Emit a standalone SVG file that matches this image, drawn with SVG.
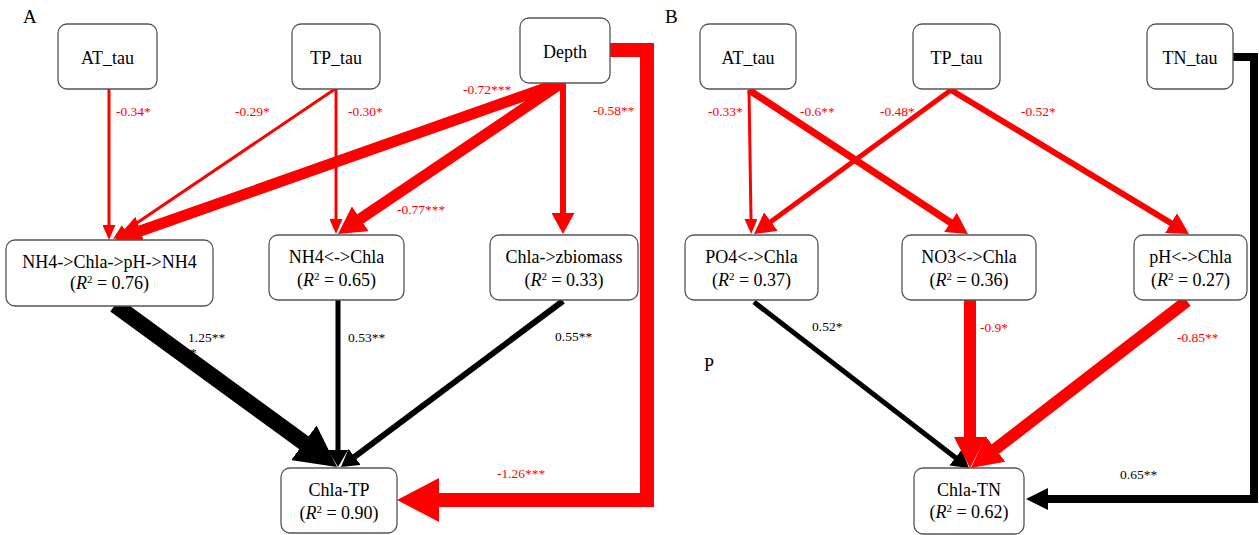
<svg xmlns="http://www.w3.org/2000/svg" width="1259" height="535" viewBox="0 0 1259 535">
  <style>
    text { font-family: "Liberation Serif", "DejaVu Serif", serif; }
    .box { fill: #ffffff; stroke: #555555; stroke-width: 1.3; }
    .nt { font-size: 18px; fill: #000; text-anchor: middle; }
    .sup { font-size: 11px; }
    .panel { font-size: 19px; fill: #000; }
    .lbl text { font-size: 13.5px; }
    .neg { fill: #ff0000; }
    .pos { fill: #000000; }
    .r { stroke: #ff0000; fill: none; }
    .k { stroke: #000000; fill: none; }
    .conn path, .conn line { stroke-linejoin: miter; stroke-linecap: butt; }
  </style>
  <defs>
    <marker id="rS" markerUnits="userSpaceOnUse" markerWidth="15" markerHeight="13" viewBox="0 0 15 13" refX="1" refY="6.5" orient="auto"><path d="M0,0 L15,6.5 L0,13 z" fill="#ff0000"/></marker>
    <marker id="rM" markerUnits="userSpaceOnUse" markerWidth="21" markerHeight="23" viewBox="0 0 21 23" refX="1" refY="11.5" orient="auto"><path d="M0,0 L21,11.5 L0,23 z" fill="#ff0000"/></marker>
    <marker id="rL" markerUnits="userSpaceOnUse" markerWidth="27" markerHeight="30" viewBox="0 0 27 30" refX="1" refY="15" orient="auto"><path d="M0,0 L27,15 L0,30 z" fill="#ff0000"/></marker>
    <marker id="rL2" markerUnits="userSpaceOnUse" markerWidth="31" markerHeight="32" viewBox="0 0 31 32" refX="1" refY="16" orient="auto"><path d="M0,0 L31,16 L0,32 z" fill="#ff0000"/></marker>
    <marker id="rXL" markerUnits="userSpaceOnUse" markerWidth="42" markerHeight="44" viewBox="0 0 42 44" refX="1" refY="22" orient="auto"><path d="M0,0 L42,22 L0,44 z" fill="#ff0000"/></marker>
    <marker id="kS" markerUnits="userSpaceOnUse" markerWidth="17" markerHeight="20" viewBox="0 0 17 20" refX="1" refY="10" orient="auto"><path d="M0,0 L17,10 L0,20 z" fill="#000000"/></marker>
    <marker id="kM" markerUnits="userSpaceOnUse" markerWidth="22" markerHeight="22" viewBox="0 0 22 22" refX="1" refY="11" orient="auto"><path d="M0,0 L22,11 L0,22 z" fill="#000000"/></marker>
    <marker id="kXL" markerUnits="userSpaceOnUse" markerWidth="41" markerHeight="43" viewBox="0 0 41 43" refX="1" refY="21.5" orient="auto"><path d="M0,0 L41,21.5 L0,43 z" fill="#000000"/></marker>
  </defs>

  <rect width="1259" height="535" fill="#ffffff"/>

  <!-- panel letters -->
  <text class="panel" x="23" y="23">A</text>
  <text class="panel" x="665" y="23">B</text>
  <text class="panel" x="704" y="371" style="font-size:18px">P</text>

  <!-- connectors -->
  <g id="connectors" class="conn">
    <!-- panel A -->
    <line class="r" x1="109" y1="89" x2="109" y2="226" stroke-width="3" marker-end="url(#rS)"/>
    <line class="r" x1="335" y1="89" x2="124.6" y2="231.2" stroke-width="3" marker-end="url(#rS)"/>
    <line class="r" x1="336" y1="89" x2="336" y2="220" stroke-width="3" marker-end="url(#rS)"/>
    <line class="r" x1="563" y1="82" x2="139.5" y2="231.3" stroke-width="11" marker-end="url(#rL)"/>
    <line class="r" x1="563" y1="82" x2="359.5" y2="219.4" stroke-width="11" marker-end="url(#rL)"/>
    <line class="r" x1="563" y1="82" x2="563" y2="214" stroke-width="6" marker-end="url(#rM)"/>
    <path class="r" d="M610,50 H647 V500 H438" stroke-width="14" marker-end="url(#rXL)"/>
    <line class="k" x1="115" y1="305" x2="304.7" y2="443.4" stroke-width="16" marker-end="url(#kXL)"/>
    <line class="k" x1="338" y1="300" x2="338" y2="451" stroke-width="5" marker-end="url(#kS)"/>
    <line class="k" x1="563" y1="301" x2="353.8" y2="457.4" stroke-width="6" marker-end="url(#kS)"/>
    <!-- panel B -->
    <line class="r" x1="749" y1="90" x2="751" y2="220" stroke-width="3" marker-end="url(#rS)"/>
    <line class="r" x1="749" y1="90" x2="951.3" y2="223" stroke-width="7" marker-end="url(#rM)"/>
    <line class="r" x1="951" y1="90" x2="770.1" y2="222.2" stroke-width="5" marker-end="url(#rM)"/>
    <line class="r" x1="951" y1="90" x2="1171.9" y2="223.6" stroke-width="6" marker-end="url(#rM)"/>
    <line class="k" x1="754" y1="302" x2="956.3" y2="458.2" stroke-width="5" marker-end="url(#kS)"/>
    <line class="r" x1="970" y1="300" x2="970" y2="438" stroke-width="12" marker-end="url(#rL2)"/>
    <line class="r" x1="1187" y1="301" x2="994.7" y2="449.6" stroke-width="12" marker-end="url(#rL2)"/>
    <path class="k" d="M1233,57 H1254 V499 H1047" stroke-width="8" marker-end="url(#kM)"/>
  </g>

  <!-- path coefficients -->
  <g id="coefficients" class="lbl">
    <text class="neg" x="116" y="116">-0.34*</text>
    <text class="neg" x="235" y="116">-0.29*</text>
    <text class="neg" x="348" y="116">-0.30*</text>
    <text class="neg" x="463" y="94">-0.72***</text>
    <text class="neg" x="593" y="115">-0.58**</text>
    <text class="neg" x="397" y="214">-0.77***</text>
    <text class="pos" x="188" y="342">1.25**</text>
    <!-- wrapped third asterisk of the 1.25 coefficient -->
    <text class="pos" x="190" y="357">*</text>
    <text class="pos" x="348" y="342">0.53**</text>
    <text class="pos" x="555" y="341">0.55**</text>
    <text class="neg" x="497" y="478">-1.26***</text>
    <text class="neg" x="708" y="116">-0.33*</text>
    <text class="neg" x="800" y="116">-0.6**</text>
    <text class="neg" x="880" y="116">-0.48*</text>
    <text class="neg" x="1021" y="116">-0.52*</text>
    <text class="pos" x="812" y="331">0.52*</text>
    <text class="neg" x="980" y="332">-0.9*</text>
    <text class="neg" x="1177" y="342">-0.85**</text>
    <text class="pos" x="1120" y="479">0.65**</text>
  </g>

  <!-- panel A nodes -->
  <g id="A_AT_tau">
    <rect class="box" x="58" y="24" width="99" height="65" rx="9"/>
    <text class="nt" x="107.5" y="64">AT_tau</text>
  </g>
  <g id="A_TP_tau">
    <rect class="box" x="292" y="24" width="88" height="65" rx="9"/>
    <text class="nt" x="336" y="64">TP_tau</text>
  </g>
  <g id="A_Depth">
    <rect class="box" x="520" y="18" width="90" height="65" rx="9"/>
    <text class="nt" x="565" y="58">Depth</text>
  </g>
  <g id="A_NH4_Chla_pH">
    <rect class="box" x="6" y="240" width="207" height="66" rx="9"/>
    <text class="nt" x="109.5" y="268">NH4-&gt;Chla-&gt;pH-&gt;NH4</text>
    <text class="nt" x="109.5" y="289">(<tspan font-style="italic">R</tspan><tspan class="sup" dy="-6">2</tspan><tspan dy="6"> = 0.76)</tspan></text>
  </g>
  <g id="A_NH4_Chla">
    <rect class="box" x="269" y="235" width="135" height="65" rx="9"/>
    <text class="nt" x="336.5" y="263">NH4&lt;-&gt;Chla</text>
    <text class="nt" x="336.5" y="286">(<tspan font-style="italic">R</tspan><tspan class="sup" dy="-6">2</tspan><tspan dy="6"> = 0.65)</tspan></text>
  </g>
  <g id="A_Chla_zbiomass">
    <rect class="box" x="490" y="235" width="148" height="65" rx="9"/>
    <text class="nt" x="564" y="263">Chla-&gt;zbiomass</text>
    <text class="nt" x="564" y="286">(<tspan font-style="italic">R</tspan><tspan class="sup" dy="-6">2</tspan><tspan dy="6"> = 0.33)</tspan></text>
  </g>
  <g id="A_Chla_TP">
    <rect class="box" x="281" y="468" width="116" height="65" rx="9"/>
    <text class="nt" x="339" y="496">Chla-TP</text>
    <text class="nt" x="339" y="519">(<tspan font-style="italic">R</tspan><tspan class="sup" dy="-6">2</tspan><tspan dy="6"> = 0.90)</tspan></text>
  </g>

  <!-- panel B nodes -->
  <g id="B_AT_tau">
    <rect class="box" x="700" y="24" width="96" height="65" rx="9"/>
    <text class="nt" x="748" y="64">AT_tau</text>
  </g>
  <g id="B_TP_tau">
    <rect class="box" x="913" y="24" width="87" height="65" rx="9"/>
    <text class="nt" x="956.5" y="64">TP_tau</text>
  </g>
  <g id="B_TN_tau">
    <rect class="box" x="1147" y="24" width="86" height="65" rx="9"/>
    <text class="nt" x="1190" y="64">TN_tau</text>
  </g>
  <g id="B_PO4_Chla">
    <rect class="box" x="685" y="235" width="133" height="65" rx="9"/>
    <text class="nt" x="751.5" y="263">PO4&lt;-&gt;Chla</text>
    <text class="nt" x="751.5" y="286">(<tspan font-style="italic">R</tspan><tspan class="sup" dy="-6">2</tspan><tspan dy="6"> = 0.37)</tspan></text>
  </g>
  <g id="B_NO3_Chla">
    <rect class="box" x="902" y="235" width="134" height="65" rx="9"/>
    <text class="nt" x="969" y="263">NO3&lt;-&gt;Chla</text>
    <text class="nt" x="969" y="286">(<tspan font-style="italic">R</tspan><tspan class="sup" dy="-6">2</tspan><tspan dy="6"> = 0.36)</tspan></text>
  </g>
  <g id="B_pH_Chla">
    <rect class="box" x="1134" y="235" width="113" height="65" rx="9"/>
    <text class="nt" x="1190.5" y="263">pH&lt;-&gt;Chla</text>
    <text class="nt" x="1190.5" y="286">(<tspan font-style="italic">R</tspan><tspan class="sup" dy="-6">2</tspan><tspan dy="6"> = 0.27)</tspan></text>
  </g>
  <g id="B_Chla_TN">
    <rect class="box" x="914" y="468" width="110" height="66" rx="9"/>
    <text class="nt" x="969" y="496">Chla-TN</text>
    <text class="nt" x="969" y="518">(<tspan font-style="italic">R</tspan><tspan class="sup" dy="-6">2</tspan><tspan dy="6"> = 0.62)</tspan></text>
  </g>
</svg>
